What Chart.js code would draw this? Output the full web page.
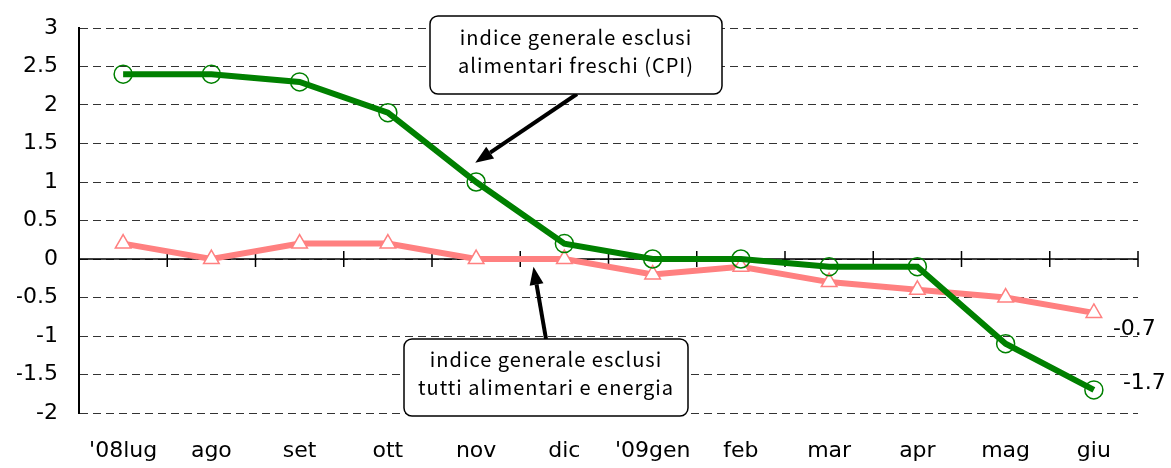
<!DOCTYPE html>
<html lang="it">
  <head>
    <meta charset="UTF-8" />
    <title>CPI</title>
    <script src="https://cdn.jsdelivr.net/npm/chart.js@4.4.1/dist/chart.umd.min.js"></script>
    <style>
      body { margin: 0; background: #fff; }
    </style>
  </head>
  <body>
    <div style="width: 1171px; height: 468px;">
      <canvas id="cpi-chart" width="1171" height="468"></canvas>
    </div>

    <script>
      // mesi (asse x)
      const mesi = ["'08lug", 'ago', 'set', 'ott', 'nov', 'dic', "'09gen", 'feb', 'mar', 'apr', 'mag', 'giu'];
      // indice generale esclusi alimentari freschi
      const cpiCore = [2.4, 2.4, 2.3, 1.9, 1.0, 0.2, 0.0, 0.0, -0.1, -0.1, -1.1, -1.7];
      // indice generale esclusi tutti alimentari e energia
      const cpiCoreCore = [0.2, 0.0, 0.2, 0.2, 0.0, 0.0, -0.2, -0.1, -0.3, -0.4, -0.5, -0.7];
      const yMin = -2, yMax = 3, yStep = 0.5;

      const boxLabel1 = ['indice generale esclusi', 'alimentari freschi (CPI)'];
      const boxLabel2 = ['indice generale esclusi', 'tutti alimentari e energia'];

      const axisFont = '"DejaVu Sans", sans-serif';

      // linea dello zero con tacche + callout
      const extras = {
        id: 'extras',
        beforeDatasetsDraw(chart) {
          const { ctx, scales: { x, y } } = chart;
          const y0 = y.getPixelForValue(0);
          ctx.save();
          ctx.strokeStyle = '#000';
          ctx.lineWidth = 1.5;
          ctx.beginPath();
          ctx.moveTo(x.left, y0);
          ctx.lineTo(x.right, y0);
          for (let i = 0; i <= mesi.length; i++) {
            const px = x.getPixelForValue(i - 0.5);
            ctx.moveTo(px, y0 - 8);
            ctx.lineTo(px, y0 + 8);
          }
          ctx.stroke();
          ctx.restore();
        },
        afterDraw(chart) {
          const { ctx, scales: { x, y } } = chart;
          const last = mesi.length - 1;
          ctx.save();

          // etichette finali
          ctx.fillStyle = '#000';
          ctx.font = '22px ' + axisFont;
          ctx.textBaseline = 'middle';
          ctx.textAlign = 'left';
          ctx.fillText(String(cpiCoreCore[last]), x.getPixelForValue(last) + 19, y.getPixelForValue(cpiCoreCore[last]) + 16);
          ctx.fillText(String(cpiCore[last]), x.getPixelForValue(last) + 29, y.getPixelForValue(cpiCore[last]) - 7);

          // frecce
          arrow(ctx, 577, 94, x.getPixelForValue(3.99), y.getPixelForValue(1.25));
          arrow(ctx, 546, 339, x.getPixelForValue(4.65), y.getPixelForValue(-0.1));

          // riquadri
          box(ctx, 430, 16, 292, 78, boxLabel1);
          box(ctx, 404, 339, 284, 77, boxLabel2);
          ctx.restore();
        }
      };

      function arrow(ctx, x1, y1, x2, y2) {
        const ang = Math.atan2(y2 - y1, x2 - x1);
        const len = 18, half = 7;
        const bx = x2 - len * Math.cos(ang), by = y2 - len * Math.sin(ang);
        ctx.strokeStyle = '#000';
        ctx.fillStyle = '#000';
        ctx.lineWidth = 4;
        ctx.beginPath();
        ctx.moveTo(x1, y1);
        ctx.lineTo(bx, by);
        ctx.stroke();
        ctx.beginPath();
        ctx.moveTo(x2, y2);
        ctx.lineTo(bx + half * Math.sin(ang), by - half * Math.cos(ang));
        ctx.lineTo(bx - half * Math.sin(ang), by + half * Math.cos(ang));
        ctx.closePath();
        ctx.fill();
      }

      function box(ctx, bx, by, w, h, lines) {
        ctx.fillStyle = '#fff';
        ctx.strokeStyle = '#000';
        ctx.lineWidth = 1.5;
        ctx.beginPath();
        ctx.roundRect(bx, by, w, h, 8);
        ctx.fill();
        ctx.stroke();
        ctx.fillStyle = '#000';
        ctx.font = '20px "Noto Sans CJK JP", "Noto Sans", sans-serif';
        ctx.letterSpacing = '1px';
        ctx.textAlign = 'center';
        ctx.textBaseline = 'middle';
        ctx.fillText(lines[0], bx + w / 2, by + h * 0.27);
        ctx.fillText(lines[1], bx + w / 2, by + h * 0.63);
        ctx.letterSpacing = '0px';
      }

      new Chart(document.getElementById('cpi-chart'), {
        type: 'line',
        data: {
          labels: mesi,
          datasets: [
            {
              data: cpiCore,
              borderColor: '#008000',
              borderWidth: 6,
              pointStyle: 'circle',
              pointRadius: 9,
              pointBorderWidth: 1.5,
              pointBorderColor: '#008000',
              pointBackgroundColor: 'rgba(0,0,0,0)',
              tension: 0,
            },
            {
              data: cpiCoreCore,
              borderColor: '#ff8080',
              borderWidth: 6,
              pointStyle: 'triangle',
              pointRadius: 9,
              pointBorderWidth: 1.5,
              pointBorderColor: '#ff8080',
              pointBackgroundColor: '#fff',
              tension: 0,
            },
          ],
        },
        options: {
          responsive: false,
          animation: false,
          layout: { padding: { top: 28, right: 33, left: 17, bottom: 5 } },
          plugins: {
            legend: { display: false },
            tooltip: { enabled: false },
          },
          scales: {
            x: {
              offset: true,
              grid: { display: false, offset: true },
              border: { display: false },
              afterFit: (s) => { s.height = 50; },
              ticks: {
                color: '#000',
                padding: 17,
                maxRotation: 0,
                autoSkip: false,
                font: { size: 22, family: axisFont },
              },
            },
            y: {
              min: yMin,
              max: yMax,
              border: { display: true, color: '#000', width: 2, dash: [8, 5] },
              grid: { color: '#333', lineWidth: 1, drawTicks: false },
              afterFit: (s) => {
                s.width = 62;
                s.paddingTop = 0;
                s.paddingBottom = 0;
              },
              ticks: {
                stepSize: yStep,
                color: '#000',
                padding: 21,
                font: { size: 22, family: axisFont },
                callback: (v) => String(Number(v.toFixed(1))),
              },
            },
          },
        },
        plugins: [extras],
      });
    </script>
  </body>
</html>
